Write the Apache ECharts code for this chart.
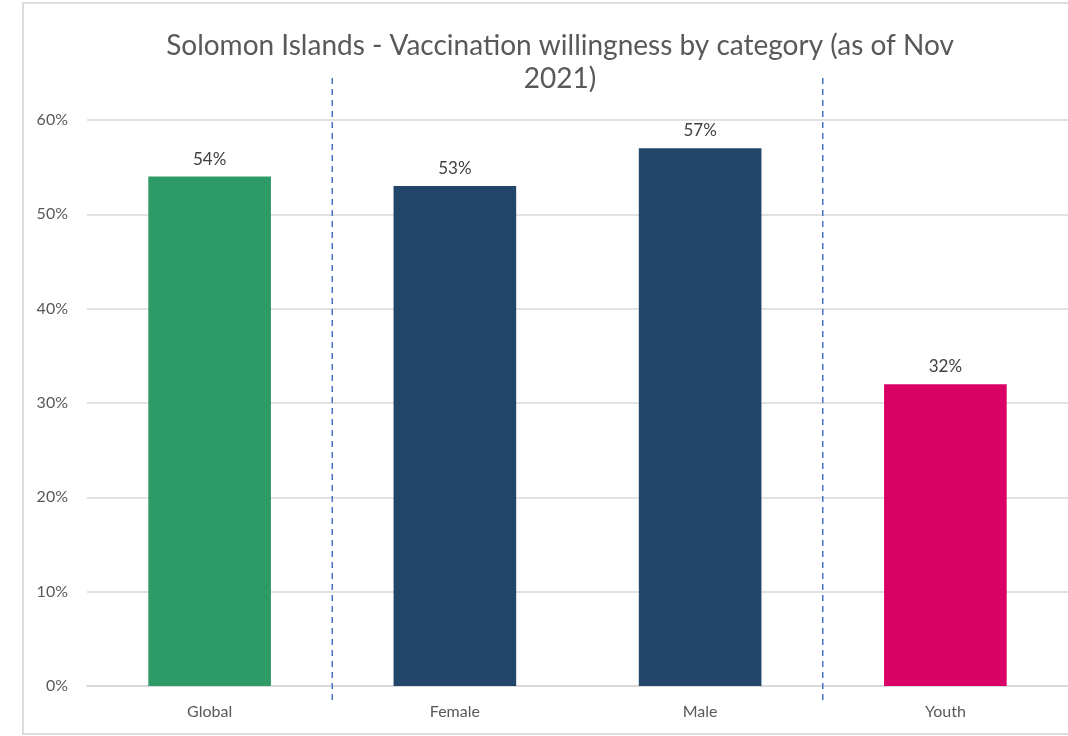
<!DOCTYPE html>
<html>
<head>
<meta charset="utf-8">
<script src="https://cdn.jsdelivr.net/npm/echarts@6/dist/echarts.min.js"></script>
<style>
html,body{margin:0;padding:0;background:#fff;overflow:hidden;}
#c{width:1068px;height:736px;}
</style>
</head>
<body>
<div id="c"></div>
<script>
var categories = ['Global', 'Female', 'Male', 'Youth'];
var values = [0.54, 0.53, 0.57, 0.32];
var barColors = ['#2E9A66', '#21466A', '#21466A', '#D90066'];
var yTicks = [0, 0.1, 0.2, 0.3, 0.4, 0.5, 0.6];
var separators = [0.5, 2.5]; // between categories

var chart = echarts.init(document.getElementById('c'));
chart.setOption({
  backgroundColor: '#fff',
  animation: false,
  title: {
    text: 'Solomon Islands - Vaccination willingness by category (as of Nov\n2021)',
    left: 555,
    textAlign: 'center',
    top: 24,
    textStyle: {fontFamily: 'Lato', fontSize: 28, fontWeight: 'normal', color: '#595959', lineHeight: 33}
  },
  graphic: [{
    type: 'rect', silent: true, z: -1,
    shape: {x: 23, y: 3, width: 1100, height: 731},
    style: {fill: 'none', stroke: '#dcdcdc', lineWidth: 2}
  }],
  grid: {left: 87, right: -1, top: 120, bottom: 50},
  xAxis: {
    type: 'category',
    data: categories,
    axisLine: {show: true, lineStyle: {color: '#d9d9d9', width: 2}},
    axisTick: {show: false},
    axisLabel: {color: '#595959', fontFamily: 'Lato', fontSize: 16, margin: 18}
  },
  yAxis: {
    type: 'value',
    min: 0, max: 0.6, interval: 0.1,
    axisLine: {show: false},
    axisTick: {show: false},
    splitLine: {lineStyle: {color: '#d9d9d9', width: 1.5}},
    axisLabel: {color: '#595959', fontFamily: 'Lato', fontSize: 16, margin: 19,
      formatter: function (v) { return Math.round(v * 100) + '%'; }}
  },
  series: [{
    type: 'bar',
    barWidth: '50%',
    data: values.map(function (v, i) { return {value: v, itemStyle: {color: barColors[i]}}; }),
    label: {show: true, position: 'top', distance: 9, color: '#404040', fontFamily: 'Lato', fontSize: 17,
      formatter: function (p) { return Math.round(p.value * 100) + '%'; }}
  }, {
    type: 'custom',
    clip: false,
    silent: true,
    data: separators.map(function (s) { return [s]; }),
    renderItem: function (params, api) {
      var s = api.value(0);
      var i0 = Math.floor(s);
      var a = api.coord([i0, 0]);
      var b = api.coord([i0 + 1, 0]);
      var x = (a[0] + b[0]) / 2;
      var top = api.coord([i0, 0.6])[1];
      var bottom = a[1];
      return {
        type: 'line',
        shape: {x1: x, y1: top - 42, x2: x, y2: bottom + 19},
        style: {stroke: '#4472C4', lineWidth: 1.5, lineDash: [6, 5]}
      };
    }
  }]
});
</script>
</body>
</html>
